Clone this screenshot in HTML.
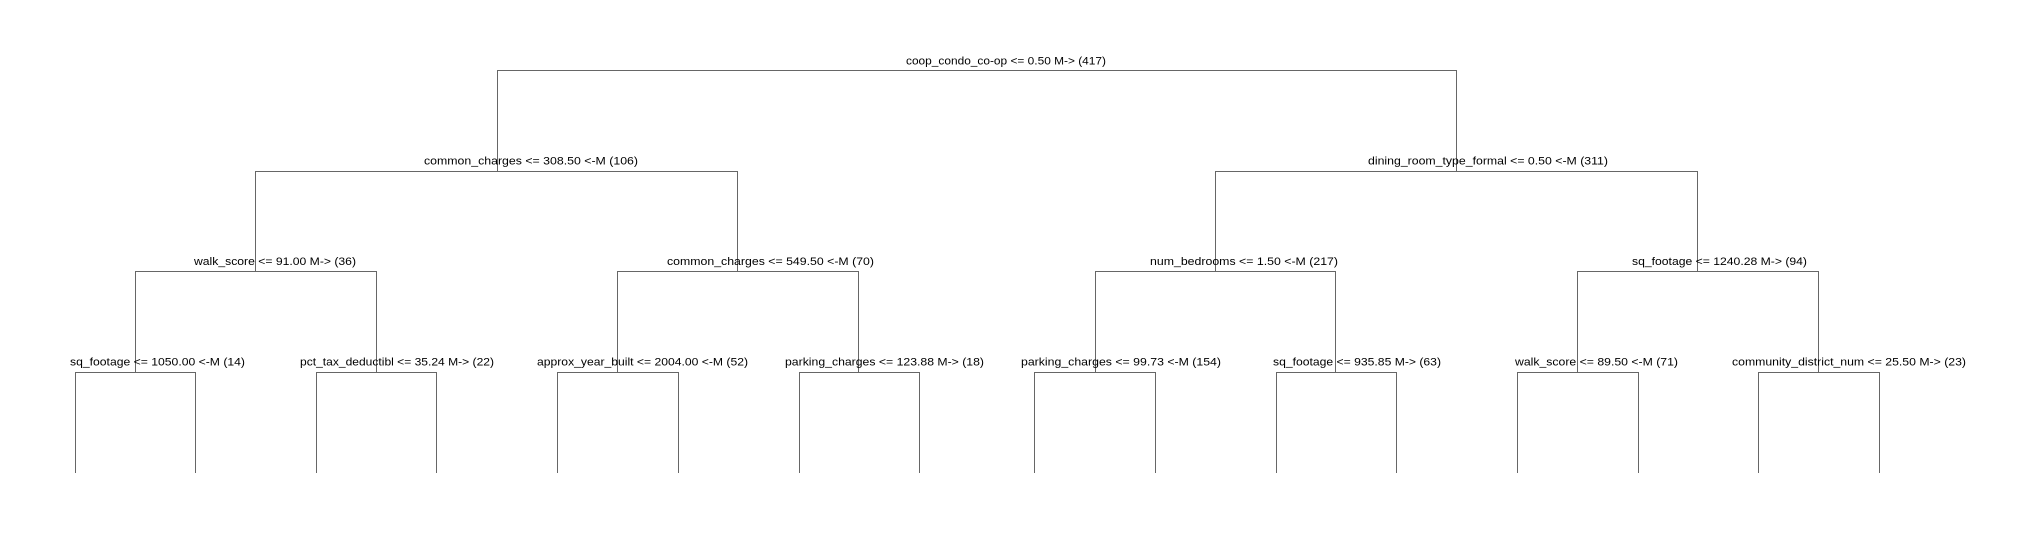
<!DOCTYPE html>
<html><head><meta charset="utf-8"><style>
html,body{margin:0;padding:0;background:#fff;}
svg{display:block;}
text{font-family:"Liberation Sans",sans-serif;font-size:11px;fill:#000;}
</style></head><body>
<svg width="2030" height="540" viewBox="0 0 2030 540" xmlns="http://www.w3.org/2000/svg">
<g stroke="#666" stroke-width="1" fill="none" shape-rendering="crispEdges">
<!-- root -->
<path d="M497.5 171.5 V70.5 H1456.5 V171.5"/>
<!-- level1 -->
<path d="M255.5 271.5 V171.5 H737.5 V271.5"/>
<path d="M1215.5 271.5 V171.5 H1697.5 V271.5"/>
<!-- level2 -->
<path d="M135.5 372.5 V271.5 H376.5 V372.5"/>
<path d="M617.5 372.5 V271.5 H858.5 V372.5"/>
<path d="M1095.5 372.5 V271.5 H1335.5 V372.5"/>
<path d="M1577.5 372.5 V271.5 H1818.5 V372.5"/>
<!-- level3 -->
<path d="M75.5 473 V372.5 H195.5 V473"/>
<path d="M316.5 473 V372.5 H436.5 V473"/>
<path d="M557.5 473 V372.5 H678.5 V473"/>
<path d="M799.5 473 V372.5 H919.5 V473"/>
<path d="M1034.5 473 V372.5 H1155.5 V473"/>
<path d="M1276.5 473 V372.5 H1396.5 V473"/>
<path d="M1517.5 473 V372.5 H1638.5 V473"/>
<path d="M1758.5 473 V372.5 H1879.5 V473"/>
</g>
<text x="906" y="64.5" textLength="200" lengthAdjust="spacingAndGlyphs">coop_condo_co-op &lt;= 0.50 M-&gt; (417)</text>
<text x="424" y="164.5" textLength="214" lengthAdjust="spacingAndGlyphs">common_charges &lt;= 308.50 &lt;-M (106)</text>
<text x="1368" y="164.5" textLength="240" lengthAdjust="spacingAndGlyphs">dining_room_type_formal &lt;= 0.50 &lt;-M (311)</text>
<text x="194" y="265" textLength="162" lengthAdjust="spacingAndGlyphs">walk_score &lt;= 91.00 M-&gt; (36)</text>
<text x="667" y="265" textLength="207" lengthAdjust="spacingAndGlyphs">common_charges &lt;= 549.50 &lt;-M (70)</text>
<text x="1150" y="265" textLength="188" lengthAdjust="spacingAndGlyphs">num_bedrooms &lt;= 1.50 &lt;-M (217)</text>
<text x="1632" y="265" textLength="175" lengthAdjust="spacingAndGlyphs">sq_footage &lt;= 1240.28 M-&gt; (94)</text>
<text x="70" y="365.5" textLength="175" lengthAdjust="spacingAndGlyphs">sq_footage &lt;= 1050.00 &lt;-M (14)</text>
<text x="300" y="365.5" textLength="194" lengthAdjust="spacingAndGlyphs">pct_tax_deductibl &lt;= 35.24 M-&gt; (22)</text>
<text x="537" y="365.5" textLength="211" lengthAdjust="spacingAndGlyphs">approx_year_built &lt;= 2004.00 &lt;-M (52)</text>
<text x="785" y="365.5" textLength="199" lengthAdjust="spacingAndGlyphs">parking_charges &lt;= 123.88 M-&gt; (18)</text>
<text x="1021" y="365.5" textLength="200" lengthAdjust="spacingAndGlyphs">parking_charges &lt;= 99.73 &lt;-M (154)</text>
<text x="1273" y="365.5" textLength="168" lengthAdjust="spacingAndGlyphs">sq_footage &lt;= 935.85 M-&gt; (63)</text>
<text x="1515" y="365.5" textLength="163" lengthAdjust="spacingAndGlyphs">walk_score &lt;= 89.50 &lt;-M (71)</text>
<text x="1732" y="365.5" textLength="234" lengthAdjust="spacingAndGlyphs">community_district_num &lt;= 25.50 M-&gt; (23)</text>
</svg>
</body></html>
